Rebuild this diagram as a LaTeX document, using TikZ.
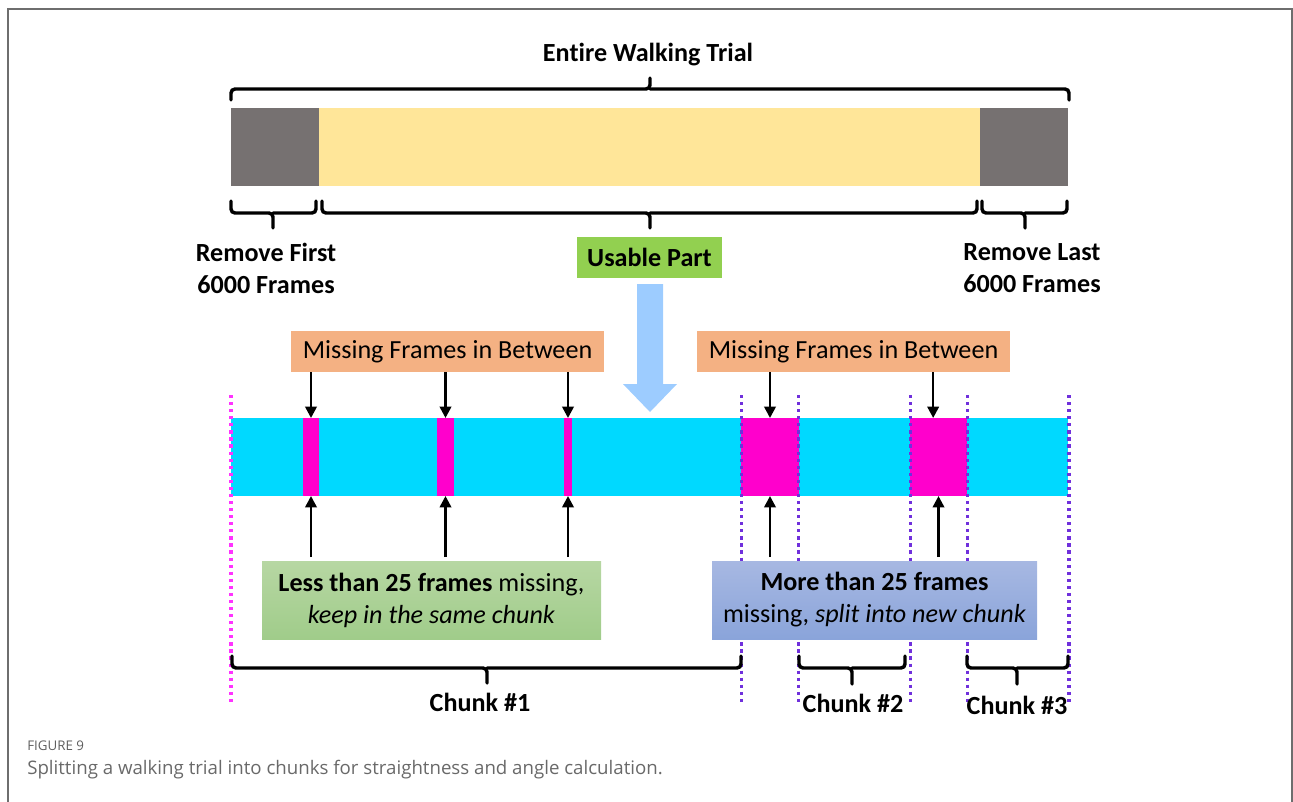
\documentclass[tikz,border=0pt]{standalone}
\usepackage{fontspec}
\setmainfont[Ligatures=NoCommon]{Carlito}
\newfontfamily\capfont{Open Sans}
\usetikzlibrary{arrows.meta}
\definecolor{bargray}{RGB}{118,113,113}
\definecolor{baryellow}{RGB}{255,230,153}
\definecolor{usegreen}{RGB}{146,208,80}
\definecolor{orangebox}{RGB}{244,177,131}
\definecolor{cyanbar}{RGB}{0,217,255}
\definecolor{magentagap}{RGB}{255,0,204}
\definecolor{arrowblue}{RGB}{157,204,255}
\definecolor{greentop}{RGB}{183,215,163}
\definecolor{greenbot}{RGB}{160,204,138}
\definecolor{bluetop}{RGB}{167,184,226}
\definecolor{bluebot}{RGB}{138,164,218}
\definecolor{dotpurple}{RGB}{112,48,220}
\definecolor{dotmagenta}{RGB}{255,51,255}
\definecolor{framegray}{RGB}{110,110,110}
\definecolor{captiongray}{RGB}{105,105,105}
\newcommand{\mybrace}[6]{%
  \draw[bracestyle] (#1,#4) |- (#3,#5) -- (#3,#6);
  \draw[bracestyle] (#3,#5) -| (#2,#4);}
\begin{document}
\begin{tikzpicture}[x=0.75pt,y=-0.75pt,
  pxbox/.style 2 args={rectangle, inner sep=0pt, outer sep=0pt, minimum width=#1*0.75pt, minimum height=#2*0.75pt},
  bracestyle/.style={line width=2.6pt, rounded corners=3pt, line cap=round},
  lbl/.style={font=\fontsize{19.6}{24}\selectfont\bfseries, align=center, inner sep=0pt},
  boxtext/.style={font=\fontsize{19.6}{24}\selectfont, align=center},
  arr/.style={line width=1.9pt, -{Triangle[width=8.5pt,length=8.5pt]}},
  dotline/.style={line width=2.4pt, dash pattern=on 2.4pt off 2.9pt}
]
\useasboundingbox (0,0) rectangle (1293,801);
% frame
\draw[framegray, line width=1.4pt] (8,805) -- (8,9) -- (1292,9) -- (1292,805);

% title
\node[lbl] (title) at (648,55) {Entire Walking Trial};
\mybrace{231}{1069}{650}{100}{89}{78}

% top bar
\node[pxbox={88}{78}, fill=bargray] (g1bar) at (275,147) {};
\node[pxbox={661}{78}, fill=baryellow] (ybar) at (649.5,147) {};
\node[pxbox={88}{78}, fill=bargray] (g2bar) at (1024,147) {};

% braces under bar
\mybrace{231}{316}{273}{201}{213}{228}
\mybrace{322}{977}{650}{201}{213}{228}
\mybrace{982}{1067}{1025}{201}{213}{228}

\node[lbl] (rmfirst) at (266,268) {Remove First\\6000 Frames};
\node[lbl] (rmlast) at (1032,268) {Remove Last\\6000 Frames};
\node[pxbox={145}{41}, fill=usegreen, lbl] (usable) at (649.5,257.5) {Usable Part};

% big blue arrow
\fill[arrowblue] (637,284) -- (663,284) -- (663,384) -- (677,384) -- (650,412) -- (623,384) -- (637,384) -- cycle;

% orange boxes
\node[pxbox={313}{41}, fill=orangebox, boxtext] (mfl) at (447.5,351.5) {Missing Frames in Between};
\node[pxbox={313}{41}, fill=orangebox, boxtext] (mfr) at (853.5,351.5) {Missing Frames in Between};

% cyan bar and gaps
\node[pxbox={837}{78}, fill=cyanbar] (cbar) at (649.5,457) {};
\node[pxbox={16}{78}, fill=magentagap] (gp1) at (311,457) {};
\node[pxbox={17}{78}, fill=magentagap] (gp2) at (445.5,457) {};
\node[pxbox={8}{78}, fill=magentagap] (gp3) at (568,457) {};
\node[pxbox={58}{78}, fill=magentagap] (gp4) at (770,457) {};
\node[pxbox={57}{78}, fill=magentagap] (gp5) at (938.5,457) {};

% dotted lines
\draw[dotline, dotmagenta] (231,395) -- (231,704);
\foreach \xx in {741.5,798.5,910.5,967.5,1069} {
  \draw[dotline, dotpurple] (\xx,395) -- (\xx,704);
}

% bottom boxes
\node[pxbox={339}{78}, top color=greentop, bottom color=greenbot, boxtext] (less) at (431.5,600)
  {\textbf{Less than 25 frames} missing,\\\textit{keep in the same chunk}};
\node[pxbox={325}{78}, top color=bluetop, bottom color=bluebot, boxtext] (more) at (874.5,600)
  {\textbf{More than 25 frames}\\missing, \textit{split into new chunk}};

% down arrows
\draw[arr] (mfl.south -| gp1.north) -- (gp1.north);
\draw[arr] (mfl.south -| gp2.north) -- (gp2.north);
\draw[arr] (mfl.south -| gp3.north) -- (gp3.north);
\draw[arr] (mfr.south -| gp4.north) -- (gp4.north);
\draw[arr] ([xshift=-4pt]mfr.south -| gp5.north) -- ([xshift=-4pt]gp5.north);
% up arrows
\draw[arr] ([yshift=3pt]less.north -| gp1.south) -- (gp1.south);
\draw[arr] ([yshift=3pt]less.north -| gp2.south) -- (gp2.south);
\draw[arr] ([yshift=3pt]less.north -| gp3.south) -- (gp3.south);
\draw[arr] ([yshift=3pt]more.north -| gp4.south) -- (gp4.south);
\draw[arr] ([yshift=3pt]more.north -| gp5.south) -- (gp5.south);

% chunk braces
\mybrace{232}{741}{487}{656}{668}{683}
\mybrace{799}{905}{852}{656}{668}{684}
\mybrace{967}{1068}{1017}{656}{668}{684}
\node[lbl] (c1) at (480,702) {Chunk \#1};
\node[lbl] (c2) at (853,703) {Chunk \#2};
\node[lbl] (c3) at (1017,705) {Chunk \#3};

% caption
\node[anchor=west, inner sep=0pt, font=\capfont\fontsize{10}{12}\selectfont, text=captiongray!90!black] (fig) at (27,746) {FIGURE 9};
\node[anchor=west, inner sep=0pt, font=\capfont\fontsize{14}{16}\selectfont, text=captiongray] (cap) at (27,770) {Splitting a walking trial into chunks for straightness and angle calculation.};
\end{tikzpicture}
\end{document}
